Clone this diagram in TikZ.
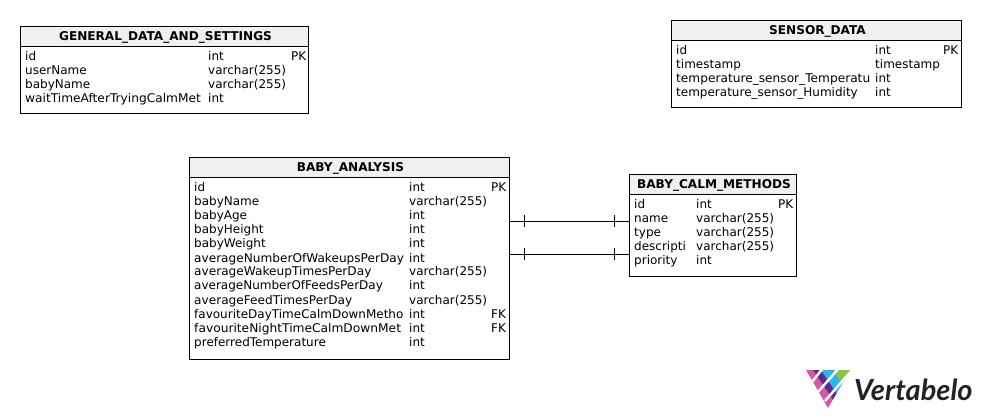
\documentclass[tikz,border=0pt]{standalone}
\usepackage{fontspec}
\setmainfont{DejaVu Sans}
\newfontfamily\logofont{Lato}
\definecolor{headfill}{HTML}{F0F0F0}
\definecolor{logoink}{HTML}{222222}
\definecolor{lpink}{HTML}{D6589F}
\definecolor{lpurple}{HTML}{5B2C8F}
\definecolor{lblue}{HTML}{2BB5EA}
\definecolor{lgreen}{HTML}{8CC63F}
\tikzset{
  x=1pt,y=-1pt,
  tablebox/.style={draw=black,line width=0.9pt,fill=white,inner sep=0pt,outer sep=0pt,anchor=north west},
  headbox/.style={tablebox,fill=headfill},
  headtext/.style={font=\fontsize{12.1}{14}\selectfont\bfseries,inner sep=0pt,anchor=base},
  cell/.style={font=\fontsize{12}{14}\selectfont,inner sep=0pt,anchor=base west},
  link/.style={draw=black,line width=0.9pt},
  logocut/.style={draw=white,line width=2.4pt},
}
\newcommand{\tablebody}[6]{% name, x1,y1,x2,ytitle,y2
  \node[tablebox,minimum width=#4pt-#2pt,minimum height=#6pt-#3pt] (#1) at (#2,#3) {};
  \node[headbox,minimum width=#4pt-#2pt,minimum height=#5pt-#3pt] (#1head) at (#2,#3) {};
}
\newcommand{\row}[6]{% prefix, y, name x, name, type x, type
  \node[cell] (#1n) at (#3,#2) {#4};
  \node[cell] (#1t) at (#5,#2) {#6};
}
\newcommand{\keyc}[4]{\node[cell] (#1) at (#2,#3) {#4};}
\newcommand{\sx}[2]{\scalebox{#1}[1]{#2}}
\begin{document}
\begin{tikzpicture}
\useasboundingbox (0,0) rectangle (981,419);
\fill[white] (0,0) rectangle (981,419);
% GENERAL
\tablebody{gen}{20.5}{26.5}{308.5}{46.5}{113}
\node[headtext] (gentitle) at (165.5,41) {GENERAL\_DATA\_AND\_SETTINGS};
\row{ga}{61}{25}{id}{208}{int}
\keyc{gak}{291}{61}{PK}
\row{gb}{75}{25}{userName}{208}{varchar(255)}
\row{gc}{89}{25}{babyName}{208}{varchar(255)}
\row{gd}{103}{25}{\sx{1.017}{waitTimeAfterTryingCalmMet}}{208}{int}
% SENSOR
\tablebody{sen}{671.5}{20.5}{961.5}{40.5}{107}
\node[headtext] (sentitle) at (817.5,35) {SENSOR\_DATA};
\row{sa}{55}{676}{id}{875}{int}
\keyc{sak}{943}{55}{PK}
\row{sb}{69}{676}{timestamp}{875}{timestamp}
\row{sc}{83}{676}{\sx{1.015}{temperature\_sensor\_Temperatu}}{875}{int}
\row{sd}{97}{676}{temperature\_sensor\_Humidity}{875}{int}
% ANALYSIS
\tablebody{ana}{189.5}{157.5}{509.5}{177.5}{359}
\node[headtext] (anatitle) at (350.5,172) {BABY\_ANALYSIS};
\row{aa}{192}{194}{id}{409}{int}
\keyc{aak}{491}{192}{PK}
\row{ab}{206}{194}{babyName}{409}{varchar(255)}
\row{ac}{220}{194}{babyAge}{409}{int}
\row{ad}{234}{194}{babyHeight}{409}{int}
\row{ae}{248}{194}{babyWeight}{409}{int}
\row{af}{262}{194}{\sx{1.01}{averageNumberOfWakeupsPerDay}}{409}{int}
\row{ag}{276}{194}{\sx{1.012}{averageWakeupTimesPerDay}}{409}{varchar(255)}
\row{ah}{290}{194}{averageNumberOfFeedsPerDay}{409}{int}
\row{ai}{304}{194}{\sx{1.012}{averageFeedTimesPerDay}}{409}{varchar(255)}
\row{aj}{318}{194}{favouriteDayTimeCalmDownMetho}{409}{int}
\keyc{ajk}{491}{318}{FK}
\row{ak}{332}{194}{\sx{1.02}{favouriteNightTimeCalmDownMet}}{409}{int}
\keyc{akk}{491}{332}{FK}
\row{al}{346}{194}{preferredTemperature}{409}{int}
% CALM
\tablebody{cal}{629.5}{174.5}{796.5}{194.5}{276}
\node[headtext] (caltitle) at (714,189) {BABY\_CALM\_METHODS};
\row{ca}{209}{634}{id}{696}{int}
\keyc{cak}{778}{209}{PK}
\row{cb}{223}{634}{name}{696}{varchar(255)}
\row{cc}{237}{634}{type}{696}{varchar(255)}
\row{cd}{251}{634}{descripti}{696}{varchar(255)}
\row{ce}{265}{634}{priority}{696}{int}
% connectors
\coordinate (lvla) at (0,221.5);
\coordinate (lvlb) at (0,254.5);
\draw[link] (ana.east |- lvla) -- (cal.west |- lvla);
\draw[link] (ana.east |- lvlb) -- (cal.west |- lvlb);
\foreach \lv in {221.5,254.5}{
  \draw[link] (524.5,\lv-6) -- (524.5,\lv+6);
  \draw[link] (614.5,\lv-6) -- (614.5,\lv+6);
}
% logo
\begin{scope}
\clip (806,370) -- (850,370) -- (828,408) -- cycle;
\fill[lpink] (800,365) rectangle (860,410);
\fill[lpurple] (813,370) -- (821,370) -- (848,410) -- (840,410) -- cycle;
\fill[lblue] (821,370) -- (833,370) -- (860,410) -- (848,410) -- cycle;
\fill[lgreen] (833,370) -- (860,370) -- (860,410) -- cycle;
\draw[logocut] (812,382) -- (823,368);
\draw[logocut] (818,392) -- (839,368);
\draw[logocut] (825,401) -- (851,371);
\end{scope}
\node[font=\logofont\fontsize{29}{32}\selectfont\itshape\bfseries,text=logoink,inner sep=0pt,anchor=base west] (logo) at (854,400) {Vertabelo};
\end{tikzpicture}
\end{document}
